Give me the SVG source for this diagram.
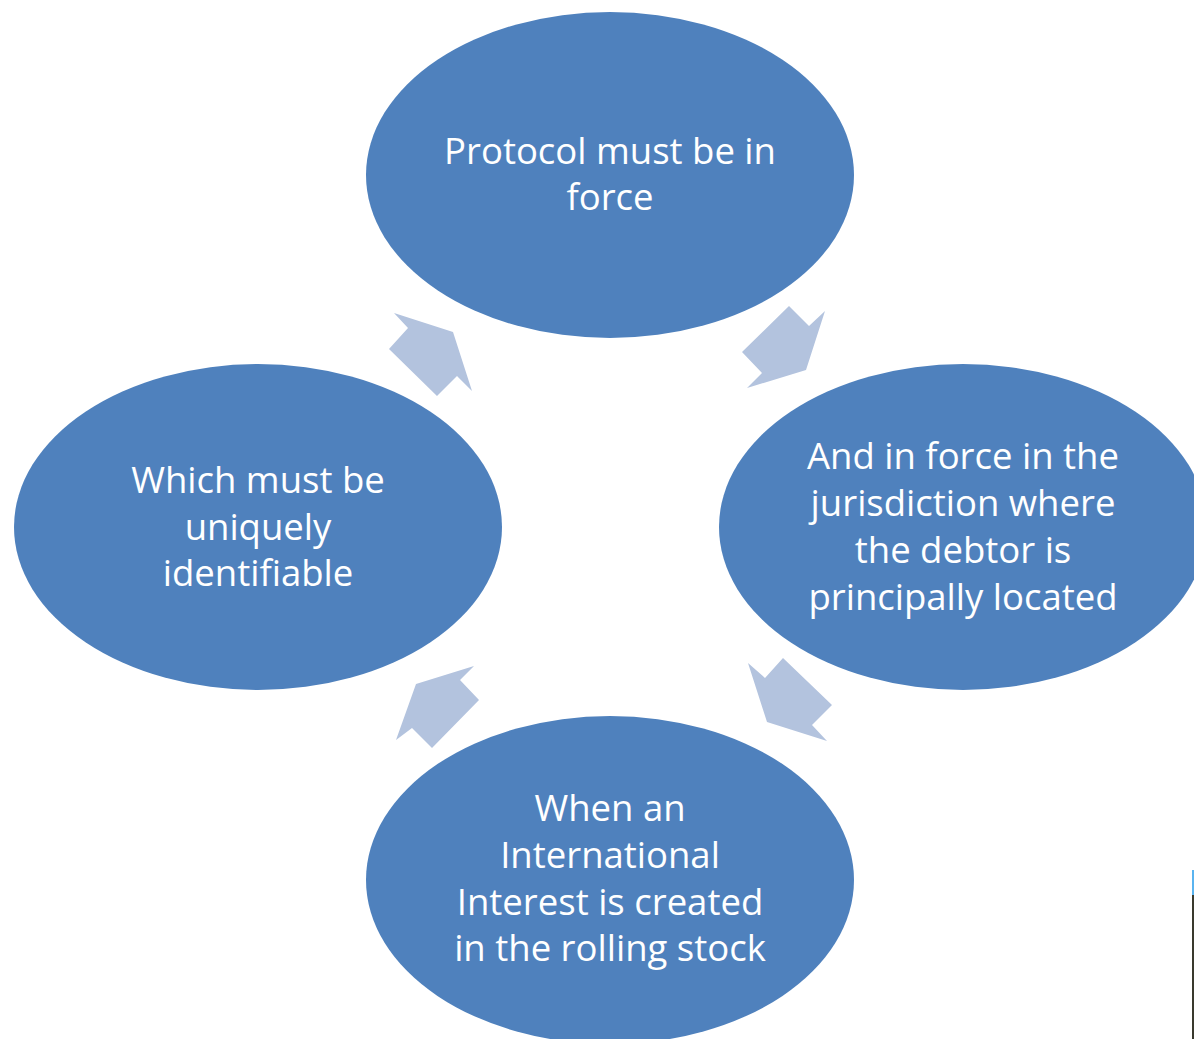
<svg xmlns="http://www.w3.org/2000/svg" width="1194" height="1039" viewBox="0 0 1194 1039">
<style>
.node{fill:#4F81BD;}
.arrow{fill:#B3C3DE;}
.t{fill:#FFFFFF;font-family:"Open Sans","Noto Sans",sans-serif;font-size:36.5px;text-anchor:middle;}
</style>
<rect width="1194" height="1039" fill="#FFFFFF"/>
<g id="connectors">
<polygon class="arrow" points="394,313 453,332 472,391 457,376 437,396 389,349 408,328"/>
<polygon class="arrow" points="789,306 809,326 825,311 806,370 747,388 762,373 742,352"/>
<polygon class="arrow" points="748,663 765,678 783,658 832,705 812,725 827,741 767,722"/>
<polygon class="arrow" points="474,666 460,680 479,700 432,748 412,728 396,740 416,684"/>
</g>
<g id="node-top">
<ellipse class="node" cx="610" cy="175" rx="244" ry="163"/>
<text class="t"><tspan x="610" y="164">Protocol must be in</tspan><tspan x="610" y="210">force</tspan></text>
</g>
<g id="node-right">
<ellipse class="node" cx="963" cy="527" rx="244" ry="163"/>
<text class="t"><tspan x="963" y="469">And in force in the</tspan><tspan x="963" y="516">jurisdiction where</tspan><tspan x="963" y="563">the debtor is</tspan><tspan x="963" y="610">principally located</tspan></text>
</g>
<g id="node-bottom">
<ellipse class="node" cx="610" cy="880" rx="244" ry="164"/>
<text class="t"><tspan x="610" y="821">When an</tspan><tspan x="610" y="868">International</tspan><tspan x="610" y="915">Interest is created</tspan><tspan x="610" y="961">in the rolling stock</tspan></text>
</g>
<g id="node-left">
<ellipse class="node" cx="258" cy="527" rx="244" ry="163"/>
<text class="t"><tspan x="258" y="493">Which must be</tspan><tspan x="258" y="540">uniquely</tspan><tspan x="258" y="586">identifiable</tspan></text>
</g>
<rect x="1192" y="870" width="2" height="25" fill="#5AB4F0"/>
<rect x="1192" y="895" width="2" height="144" fill="#3A3A2E"/>
</svg>
